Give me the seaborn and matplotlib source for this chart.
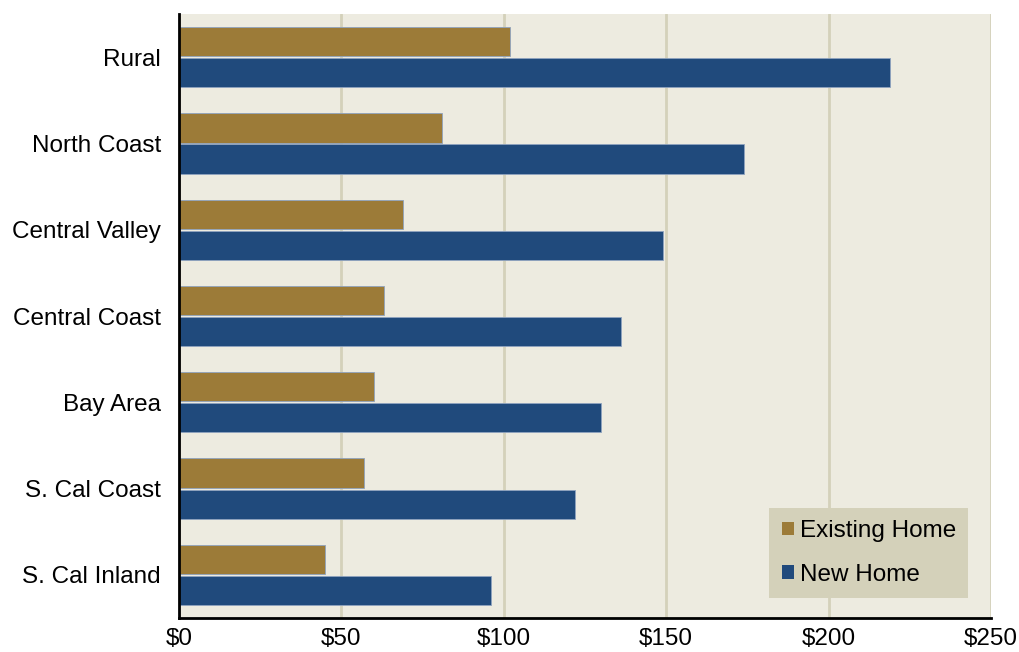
import numpy as np
import pandas as pd
import matplotlib
matplotlib.use("Agg")
import matplotlib.pyplot as plt
import seaborn as sns
from matplotlib.patches import Patch

regions = ["Rural", "North Coast", "Central Valley", "Central Coast",
           "Bay Area", "S. Cal Coast", "S. Cal Inland"]
existing_home = [102, 81, 69, 63, 60, 57, 45]
new_home = [219, 174, 149, 136, 130, 122, 96]
series = ["Existing Home", "New Home"]
colors = ["#9C7B38", "#204A7C"]
xticks = [0, 50, 100, 150, 200, 250]

df = pd.DataFrame({
    "region": regions * 2,
    "value": existing_home + new_home,
    "series": [series[0]] * len(regions) + [series[1]] * len(regions),
})

sns.set_style("white")
plt.rcParams['font.family'] = ['Liberation Sans', 'DejaVu Sans']

fig = plt.figure(figsize=(10.19, 6.52), dpi=100)
ax = fig.add_axes([0.1757, 0.0521, 0.7968, 0.9264])
ax.set_facecolor("#EDEBE0")

sns.barplot(data=df, y="region", x="value", hue="series", order=regions,
            hue_order=series, palette=colors, saturation=1, orient="h",
            width=0.72, gap=0.06, edgecolor="#8FA3BF", linewidth=0.6,
            ax=ax, legend=False)

ax.set_xlim(0, 250)
ax.set_ylim(len(regions) - 0.5, -0.5)
ax.set_xticks(xticks)
ax.set_xticklabels([f"${v}" for v in xticks])
ax.tick_params(axis="y", labelsize=17.5, labelcolor="black", length=0, pad=13)
ax.tick_params(axis="x", labelsize=17.5, labelcolor="black", length=0, pad=7)
ax.set_xlabel("")
ax.set_ylabel("")
ax.xaxis.grid(True, color="#D4D1BA", linewidth=2)
ax.set_axisbelow(True)

for side in ["top", "right"]:
    ax.spines[side].set_visible(False)
ax.spines["left"].set_color("black")
ax.spines["left"].set_linewidth(2)
ax.spines["bottom"].set_color("black")
ax.spines["bottom"].set_linewidth(2)

handles = [Patch(facecolor=c, edgecolor="none") for c in colors]
leg = ax.legend(handles, series, loc="lower right", bbox_to_anchor=(0.972, 0.033),
                fontsize=17.5, frameon=True, fancybox=False, handlelength=0.5,
                handleheight=0.5, handletextpad=0.25, labelspacing=0.9,
                borderpad=0.5, borderaxespad=0)
for t in leg.get_texts():
    t.set_color("black")
leg.get_frame().set_facecolor("#D4D1BA")
leg.get_frame().set_edgecolor("none")
leg.get_frame().set_alpha(1)

fig.savefig("out.png", dpi=100)
